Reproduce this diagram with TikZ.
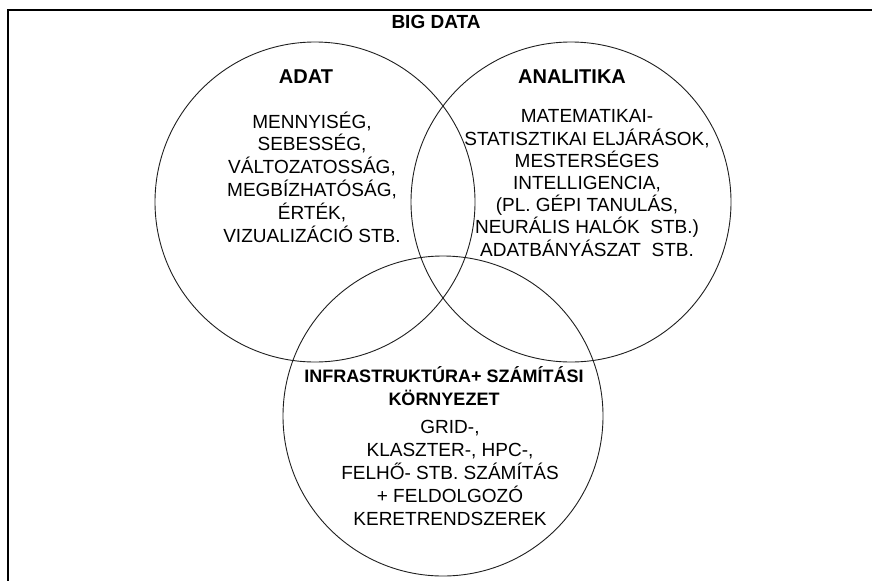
\documentclass[tikz,border=0pt]{standalone}
\usepackage{fontspec}
\setmainfont{Liberation Sans}
\usetikzlibrary{positioning}
\definecolor{vline}{RGB}{30,30,30}
\tikzset{
  % Venn circle
  VC/.style={circle,draw=vline,line width=0.9pt,minimum size=320pt,inner sep=0pt},
  % Bold heading
  HD/.style={align=center,inner sep=0pt,font=\bfseries\fontsize{#1}{22.5}\selectfont},
  HD/.default=20,
  % Body text
  BD/.style={align=center,inner sep=0pt,font=\fontsize{19}{22.8}\selectfont},
}
\begin{document}
\begin{tikzpicture}[x=1pt,y=-1pt]
  \useasboundingbox (0,0) rectangle (872,581);
  % frame: top and left edge only
  \draw[line width=1.6pt] (872,10) -- (8,10) -- (8,581);
  \node[HD=19] (big) at (436,22) {BIG DATA};
  % the three circles
  \node[VC] (adat) at (315,202) {};
  \node[VC] (anal) at (571,202) {};
  \node[VC] (infra) at (443,416) {};
  % texts
  \node[HD] (adatT) at (306,77) {ADAT};
  \node[BD] (adatB) at (312,177)
       {MENNYISÉG,\\ SEBESSÉG,\\ VÁLTOZATOSSÁG,\\ MEGBÍZHATÓSÁG,\\
        ÉRTÉK,\\ VIZUALIZÁCIÓ STB.};
  \node[HD] (analT) at (572,77) {ANALITIKA};
  \node[BD,font=\fontsize{19}{22.2}\selectfont] (analB) at (587,183)
       {MATEMATIKAI-\\ STATISZTIKAI ELJÁRÁSOK,\\ MESTERSÉGES\\ INTELLIGENCIA,\\
        (PL. GÉPI TANULÁS,\\ NEURÁLIS HALÓK\ \ STB.)\\ ADATBÁNYÁSZAT\ \ STB.};
  \node[HD=18,font=\bfseries\fontsize{18}{23}\selectfont] (infraT) at (444,386)
       {INFRASTRUKTÚRA+ SZÁMÍTÁSI\\ KÖRNYEZET};
  \node[BD,font=\fontsize{19}{23.2}\selectfont] (infraB) at (450,473)
       {GRID-,\\ KLASZTER-, HPC-,\\ FELHŐ- STB. SZÁMÍTÁS\\ + FELDOLGOZÓ\\
        KERETRENDSZEREK};
\end{tikzpicture}
\end{document}
